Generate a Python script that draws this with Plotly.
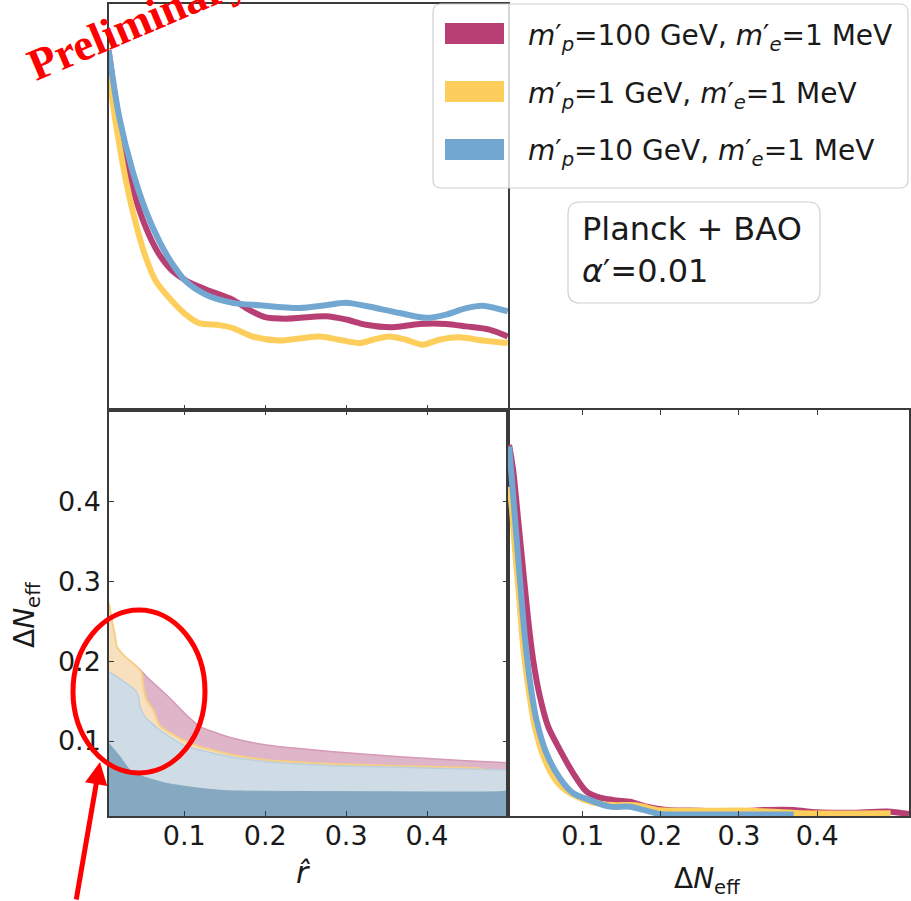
import plotly.graph_objects as go

W, H = 911, 901
FONT = "DejaVu Sans"

# ---------------- data ----------------
series_labels = [
    "<i>m</i>′<sub><i>p</i></sub>=100 GeV, <i>m</i>′<sub><i>e</i></sub>=1 MeV",
    "<i>m</i>′<sub><i>p</i></sub>=1 GeV, <i>m</i>′<sub><i>e</i></sub>=1 MeV",
    "<i>m</i>′<sub><i>p</i></sub>=10 GeV, <i>m</i>′<sub><i>e</i></sub>=1 MeV",
]
series_colors = ["#B83F73", "#FDCE5C", "#72A7D1"]

tick_vals = [0.1, 0.2, 0.3, 0.4]
tick_text = ["0.1", "0.2", "0.3", "0.4"]

# 1D posterior of r-hat (top-left)
r_mag_x = [0.0065, 0.0197, 0.0361, 0.0526, 0.0691, 0.0856, 0.102, 0.1268, 0.1597, 0.180, 0.201,
           0.2257, 0.2751, 0.2998, 0.3246, 0.3575, 0.3905, 0.4234, 0.4482, 0.477, 0.4997]
r_mag_p = [0.886, 0.705, 0.548, 0.449, 0.383, 0.342, 0.319, 0.297, 0.272, 0.247, 0.228,
           0.225, 0.231, 0.223, 0.210, 0.204, 0.212, 0.212, 0.206, 0.198, 0.181]
r_yel_x = [0.0065, 0.0155, 0.0279, 0.0403, 0.0526, 0.065, 0.0815, 0.102, 0.1185, 0.1433, 0.1597,
           0.1845, 0.2174, 0.2422, 0.2669, 0.2916, 0.3163, 0.3328, 0.3534, 0.374, 0.3946, 0.4152,
           0.4399, 0.4688, 0.4997]
r_yel_p = [0.829, 0.705, 0.565, 0.458, 0.375, 0.317, 0.276, 0.235, 0.214, 0.209, 0.202,
           0.181, 0.171, 0.176, 0.181, 0.173, 0.165, 0.173, 0.181, 0.173, 0.161, 0.173,
           0.179, 0.171, 0.165]
r_blu_x = [0.0065, 0.0197, 0.0361, 0.0526, 0.0691, 0.0856, 0.102, 0.1268, 0.1597, 0.1927, 0.2422,
           0.2751, 0.2998, 0.3246, 0.3658, 0.3987, 0.4234, 0.4482, 0.4688, 0.4997]
r_blu_p = [0.886, 0.721, 0.589, 0.49, 0.416, 0.359, 0.317, 0.284, 0.264, 0.258, 0.251,
           0.258, 0.264, 0.256, 0.239, 0.227, 0.235, 0.251, 0.257, 0.243]

# 1D posterior of Delta N_eff (bottom-right)
n_mag_x = [0.0059, 0.0111, 0.0175, 0.0239, 0.0303, 0.0367, 0.0453, 0.0559, 0.0709, 0.088, 0.1051,
           0.1222, 0.1436, 0.1606, 0.182, 0.2077, 0.2504, 0.2931, 0.3359, 0.37, 0.4, 0.4427,
           0.4897, 0.5175]
n_mag_p = [0.914, 0.852, 0.729, 0.606, 0.483, 0.384, 0.294, 0.220, 0.163, 0.105, 0.060,
           0.045, 0.038, 0.035, 0.023, 0.015, 0.013, 0.011, 0.015, 0.015, 0.009, 0.008,
           0.011, 0.005]
n_yel_x = [0.0059, 0.0089, 0.0132, 0.0183, 0.0239, 0.0303, 0.0388, 0.0517, 0.0688, 0.088, 0.1136,
           0.1393, 0.1606, 0.1735, 0.1948, 0.2504, 0.3145, 0.3786, 0.494]
n_yel_p = [0.811, 0.770, 0.663, 0.548, 0.417, 0.319, 0.220, 0.138, 0.080, 0.052, 0.033,
           0.027, 0.027, 0.025, 0.015, 0.013, 0.013, 0.007, 0.007]
n_blu_x = [0.0059, 0.0102, 0.0153, 0.0205, 0.026, 0.0324, 0.041, 0.0538, 0.0709, 0.088, 0.1094,
           0.135, 0.1606, 0.1777, 0.1991, 0.2504, 0.37]
n_blu_p = [0.910, 0.811, 0.688, 0.565, 0.442, 0.335, 0.236, 0.154, 0.093, 0.056, 0.039,
           0.023, 0.023, 0.015, 0.005, 0.004, 0.004]

# 2D contours (bottom-left): upper boundary of each filled region
c_mag95_x = [0.007, 0.0413, 0.0556, 0.0803, 0.1049, 0.1194, 0.1604, 0.2016, 0.2837, 0.366, 0.4482, 0.5]
c_mag95_y = [0.2185, 0.1932, 0.1787, 0.1556, 0.1305, 0.118, 0.1034, 0.095, 0.0866, 0.0803, 0.0753, 0.0728]
c_yel95_x = [0.007, 0.0112, 0.0146, 0.0166, 0.0269, 0.0413, 0.0475, 0.0495, 0.0536, 0.0618, 0.07,
             0.0988, 0.1194, 0.1604, 0.2016, 0.2837, 0.366, 0.4482, 0.4646, 0.47, 0.5]
c_yel95_y = [0.2728, 0.2477, 0.2309, 0.2183, 0.2058, 0.1932, 0.1849, 0.1681, 0.1514, 0.1389, 0.119,
             0.1013, 0.0928, 0.0824, 0.0762, 0.0712, 0.0686, 0.0665, 0.0657, 0.0640, 0.0625]
c_blu95_x = [0.007, 0.0228, 0.0392, 0.0433, 0.0454, 0.0515, 0.068, 0.0988, 0.1194, 0.1604, 0.2016,
             0.2837, 0.366, 0.4482, 0.5]
c_blu95_y = [0.187, 0.1765, 0.164, 0.1556, 0.143, 0.1305, 0.115, 0.095, 0.0887, 0.0796, 0.0741,
             0.0691, 0.067, 0.0649, 0.0636]
c_blu68_x = [0.007, 0.0207, 0.033, 0.0495, 0.0783, 0.1194, 0.1523, 0.33, 0.49, 0.5]
c_blu68_y = [0.097, 0.0803, 0.0636, 0.0552, 0.0469, 0.0407, 0.0377, 0.0364, 0.0364, 0.0377]

R_RANGE = [0.007, 0.5]
N_RANGE = [0.006, 0.515]
N1D_RANGE = [0.0045, 0.5175]

# ---------------- helpers (layout only) ----------------
def px(x):
    return x / W

def py(y):
    return 1 - y / H

def rounded_rect(x0, y0, x1, y1, r):
    pts = [
        f"M {px(x0 + r)},{py(y0)}",
        f"L {px(x1 - r)},{py(y0)}",
        f"Q {px(x1)},{py(y0)} {px(x1)},{py(y0 + r)}",
        f"L {px(x1)},{py(y1 - r)}",
        f"Q {px(x1)},{py(y1)} {px(x1 - r)},{py(y1)}",
        f"L {px(x0 + r)},{py(y1)}",
        f"Q {px(x0)},{py(y1)} {px(x0)},{py(y1 - r)}",
        f"L {px(x0)},{py(y0 + r)}",
        f"Q {px(x0)},{py(y0)} {px(x0 + r)},{py(y0)}",
        "Z",
    ]
    return " ".join(pts)

fig = go.Figure()

# top-left 1D r-hat
for xs, ys, col in [(r_mag_x, r_mag_p, series_colors[0]),
                    (r_yel_x, r_yel_p, series_colors[1]),
                    (r_blu_x, r_blu_p, series_colors[2])]:
    fig.add_trace(go.Scatter(x=xs, y=ys, mode="lines", xaxis="x", yaxis="y",
                             line=dict(color=col, width=6, shape="spline", smoothing=0.8),
                             showlegend=False, hoverinfo="skip"))

# bottom-left 2D filled contours
for xs, ys, fc, lc, lw in [
    (c_mag95_x, c_mag95_y, "#DFB5C9", "#D49AB6", 1.5),
    (c_yel95_x, c_yel95_y, "#F8E0BE", "#F6CF86", 2),
    (c_blu95_x, c_blu95_y, "#CFDCE5", "#BBCFDD", 1.5),
    (c_blu68_x, c_blu68_y, "#84A9C1", "#84A9C1", 1),
]:
    fig.add_trace(go.Scatter(x=xs, y=ys, mode="lines", xaxis="x2", yaxis="y2",
                             fill="tozeroy", fillcolor=fc,
                             line=dict(color=lc, width=lw, shape="spline", smoothing=0.5),
                             showlegend=False, hoverinfo="skip"))

# bottom-right 1D Delta N_eff
for xs, ys, col in [(n_mag_x, n_mag_p, series_colors[0]),
                    (n_yel_x, n_yel_p, series_colors[1]),
                    (n_blu_x, n_blu_p, series_colors[2])]:
    fig.add_trace(go.Scatter(x=xs, y=ys, mode="lines", xaxis="x3", yaxis="y3",
                             line=dict(color=col, width=6, shape="spline", smoothing=0.8),
                             showlegend=False, hoverinfo="skip"))

XL0, XM, XR = 109 / W, 508 / W, 909 / W
YB0, YM, YT = 1 - 816 / H, 1 - 410 / H, 1 - 4 / H

frame = dict(showline=True, linecolor="#3a3a3a", linewidth=1.5, showgrid=False, zeroline=False)
tickfont = dict(family=FONT, size=27, color="#1a1a1a")

fig.update_layout(
    width=W, height=H, margin=dict(l=0, r=0, t=0, b=0),
    paper_bgcolor="white", plot_bgcolor="white",
    font=dict(family=FONT, color="#1a1a1a"),
    xaxis=dict(domain=[XL0, XM], anchor="y", range=R_RANGE, mirror=True,
               ticks="inside", ticklen=5, tickwidth=1.2, tickcolor="#3a3a3a",
               tickvals=tick_vals, showticklabels=False, **frame),
    yaxis=dict(domain=[YM, YT], anchor="x", range=[0, 1], mirror=True,
               showticklabels=False, ticks="", **frame),
    xaxis2=dict(domain=[XL0, XM], anchor="y2", range=R_RANGE, mirror="ticks",
                ticks="inside", ticklen=5, tickwidth=1.2, tickcolor="#3a3a3a",
                tickvals=tick_vals, ticktext=tick_text, tickfont=tickfont,
                ticklabelstandoff=-5, **frame),
    yaxis2=dict(domain=[YB0, YM], anchor="x2", range=N_RANGE, mirror="ticks",
                ticks="inside", ticklen=5, tickwidth=1.2, tickcolor="#3a3a3a",
                tickvals=tick_vals, ticktext=tick_text, tickfont=tickfont,
                ticklabelstandoff=1, **frame),
    xaxis3=dict(domain=[XM, XR], anchor="y3", range=N1D_RANGE, mirror="ticks",
                ticks="inside", ticklen=5, tickwidth=1.2, tickcolor="#3a3a3a",
                tickvals=tick_vals, ticktext=tick_text, tickfont=tickfont,
                ticklabelstandoff=-5, **frame),
    yaxis3=dict(domain=[YB0, YM], anchor="x3", range=[0, 1], mirror=True,
                showticklabels=False, ticks="", **frame),
)

shapes = []
annotations = []

# legend box
shapes.append(dict(type="path", xref="paper", yref="paper",
                   path=rounded_rect(433, 4, 908, 188, 8),
                   fillcolor="rgba(255,255,255,0.8)", line=dict(color="#d0d0d0", width=1.2)))
patch_tops = [23, 81, 139]
text_centers = [37, 95, 153]
for i in range(3):
    shapes.append(dict(type="rect", xref="paper", yref="paper",
                       x0=px(445), x1=px(504), y0=py(patch_tops[i]), y1=py(patch_tops[i] + 21),
                       fillcolor=series_colors[i], line=dict(width=0)))
    annotations.append(dict(xref="paper", yref="paper", x=px(526), y=py(text_centers[i]),
                            xanchor="left", yanchor="middle", showarrow=False,
                            text=series_labels[i], font=dict(family=FONT, size=28, color="#1a1a1a")))

# text box
shapes.append(dict(type="path", xref="paper", yref="paper",
                   path=rounded_rect(568, 202, 820, 303, 12),
                   fillcolor="white", line=dict(color="#d0d0d0", width=1.2)))
annotations.append(dict(xref="paper", yref="paper", x=px(580), y=py(250),
                        xanchor="left", yanchor="middle", showarrow=False, align="left",
                        text="Planck + BAO<br><i>α</i>′=0.01",
                        font=dict(family=FONT, size=32, color="#1a1a1a")))

# axis titles
annotations.append(dict(xref="paper", yref="paper", x=px(303), y=py(872),
                        xanchor="center", yanchor="middle", showarrow=False,
                        text="<i>r̂</i>", font=dict(family=FONT, size=30, color="#1a1a1a")))
annotations.append(dict(xref="paper", yref="paper", x=px(26), y=py(615),
                        xanchor="center", yanchor="middle", showarrow=False, textangle=-90,
                        text="Δ<i>N</i><sub>eff</sub>", font=dict(family=FONT, size=28, color="#1a1a1a")))
annotations.append(dict(xref="paper", yref="paper", x=px(707), y=py(880),
                        xanchor="center", yanchor="middle", showarrow=False,
                        text="Δ<i>N</i><sub>eff</sub>", font=dict(family=FONT, size=28, color="#1a1a1a")))

# red highlight ellipse and arrow
shapes.append(dict(type="circle", xref="paper", yref="paper",
                   x0=px(73), x1=px(205), y0=py(773), y1=py(610),
                   line=dict(color="#FF0000", width=5)))
annotations.append(dict(xref="paper", yref="paper", x=px(100), y=py(762),
                        ax=-24, ay=140, showarrow=True, arrowhead=2, arrowsize=0.9,
                        arrowwidth=5, arrowcolor="#FF0000", text=""))

# "Preliminary" stamp
annotations.append(dict(xref="paper", yref="paper", x=px(137), y=py(22),
                        xanchor="center", yanchor="middle", showarrow=False, textangle=-23,
                        text="<b>Preliminary</b>",
                        font=dict(family="Liberation Serif", size=45, color="#FF0000")))

fig.update_layout(shapes=shapes, annotations=annotations)
fig.write_html("out.html")
